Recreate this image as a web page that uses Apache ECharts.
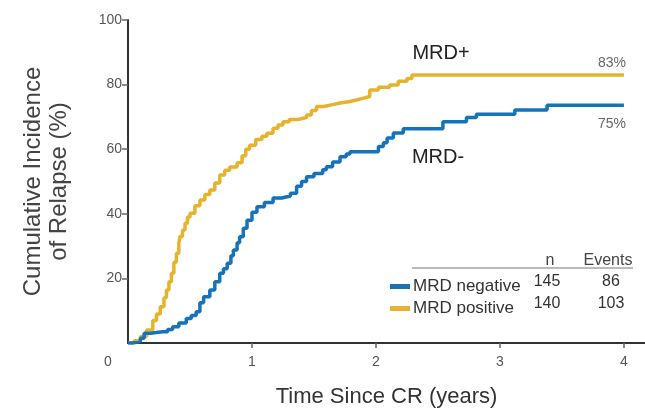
<!DOCTYPE html>
<html>
<head>
<meta charset="utf-8">
<script src="https://cdn.jsdelivr.net/npm/echarts@6/dist/echarts.min.js"></script>
<style>
html,body{margin:0;padding:0;background:#fff;}
#chart{width:645px;height:416px;}
</style>
</head>
<body>
<div id="chart"></div>
<script>
// Data (time in years, cumulative incidence %)
var seriesNames = ['MRD negative', 'MRD positive'];
var mrdNegative = [[0,0],[0.04,0.5],[0.1,1.5],[0.13,3],[0.18,3.5],[0.28,3.5],[0.32,4.2],[0.36,5],[0.41,6.2],[0.47,7.6],[0.51,8.5],[0.55,9.7],[0.58,12.5],[0.61,14.3],[0.66,16.4],[0.7,19],[0.74,21.6],[0.77,23],[0.8,24.7],[0.83,27],[0.85,28.8],[0.88,31],[0.9,32.9],[0.93,35.5],[0.96,38],[1.0,40.5],[1.04,42.2],[1.1,43.5],[1.17,44.9],[1.24,45.5],[1.31,46.4],[1.36,48.5],[1.4,50],[1.44,51.5],[1.5,52.5],[1.57,53.6],[1.6,54.6],[1.65,56],[1.71,57.7],[1.76,58.5],[1.79,59.2],[1.98,59.2],[2.02,60.8],[2.06,62],[2.09,63.5],[2.14,65],[2.22,66.3],[2.54,68.5],[2.73,69.8],[2.81,70.8],[3.12,72.1],[3.38,73.6],[4,73.6]];
var mrdPositive = [[0,0],[0.05,0.7],[0.1,2],[0.15,4],[0.2,7],[0.23,9],[0.26,11.2],[0.29,14],[0.31,16.4],[0.33,19],[0.35,21.6],[0.37,25],[0.39,27.8],[0.41,31],[0.42,33],[0.44,35],[0.46,37.1],[0.48,39],[0.5,40.2],[0.54,42.5],[0.58,44.3],[0.62,46],[0.66,47.4],[0.7,49.5],[0.74,52],[0.78,53.5],[0.82,54.5],[0.88,55.8],[0.92,58],[0.95,60],[0.98,61.2],[1.03,63],[1.08,64],[1.12,64.9],[1.17,66.5],[1.21,67.5],[1.25,68.5],[1.3,69.2],[1.37,69.8],[1.44,70.6],[1.48,72],[1.52,73.2],[1.58,73.8],[1.65,74.3],[1.71,74.7],[1.78,75.3],[1.85,75.8],[1.9,76.3],[1.95,78.3],[2.02,79.2],[2.11,79.9],[2.18,81],[2.25,81.9],[2.29,83],[4,83]];
var xTicks = [1, 2, 3, 4];
var tableHeader = ['n', 'Events'];
var tableN = [145, 140];
var tableEvents = [86, 103];
var endLabels = ['75%', '83%'];
var curveLabels = ['MRD-', 'MRD+'];

var colors = ['#1572bb', '#e5b32c'];
var FONT = '"Liberation Sans", Arial, sans-serif';
var chart = echarts.init(document.getElementById('chart'));

function txt(t, x, y, size, fill) {
  return {type:'text', style:{text:t, x:x, y:y, textAlign:'center', textVerticalAlign:'middle', font:size + 'px ' + FONT, fill:fill}};
}

var graphics = [
  txt('0', 108, 362, 14, '#555'),
  txt(curveLabels[1], 441, 53, 20, '#222'),
  txt(curveLabels[0], 438, 157, 20, '#222'),
  txt(endLabels[1], 612, 63, 14, '#666'),
  txt(endLabels[0], 612, 124, 14, '#666'),
  txt(tableHeader[0], 550, 261, 16, '#444'),
  txt(tableHeader[1], 608, 261, 16, '#444'),
  {type:'line', shape:{x1:412, y1:268, x2:633, y2:268}, style:{stroke:'#777', lineWidth:1.2}},
  txt(String(tableN[0]), 547, 282, 16, '#333'),
  txt(String(tableEvents[0]), 611, 282, 16, '#333'),
  txt(String(tableN[1]), 547, 304, 16, '#333'),
  txt(String(tableEvents[1]), 611, 304, 16, '#333')
];

chart.setOption({
  animation: false,
  backgroundColor: '#fff',
  color: colors,
  grid: {left:128, top:20, right:0, bottom:73, containLabel:false},
  legend: {
    data: seriesNames, orient:'vertical', left:385, top:273, icon:'rect',
    itemWidth:20, itemHeight:5, itemGap:5,
    textStyle:{fontSize:17, color:'#333', fontFamily:'Liberation Sans', padding:[0,0,0,-2]}
  },
  xAxis: {
    type:'value', min:0, max:4.17,
    name:'Time Since CR (years)', nameLocation:'middle', nameGap:43,
    nameTextStyle:{fontSize:22, color:'#333', fontFamily:'Liberation Sans'},
    axisLine:{show:true, onZero:false, lineStyle:{color:'#333', width:2}},
    axisTick:{show:true, customValues:xTicks, length:5, lineStyle:{color:'#666', width:1.5}},
    axisLabel:{customValues:xTicks, margin:12, fontSize:14, color:'#555', fontFamily:'Liberation Sans'},
    splitLine:{show:false}
  },
  yAxis: {
    type:'value', min:0, max:100, interval:20,
    name:'Cumulative Incidence\nof Relapse (%)', nameLocation:'middle', nameGap:56, nameRotate:90,
    nameTextStyle:{fontSize:24, lineHeight:26, color:'#444', fontFamily:'Liberation Sans'},
    axisLine:{show:true, lineStyle:{color:'#333', width:2}},
    axisTick:{show:true, length:6, lineStyle:{color:'#666', width:1.5}},
    axisLabel:{showMinLabel:false, margin:6, fontSize:14, color:'#555', fontFamily:'Liberation Sans'},
    splitLine:{show:false}
  },
  series: [
    {name:seriesNames[0], type:'line', step:'end', data:mrdNegative, showSymbol:false, lineStyle:{width:3.5, color:colors[0]}, z:3},
    {name:seriesNames[1], type:'line', step:'end', data:mrdPositive, showSymbol:false, lineStyle:{width:3.5, color:colors[1]}, z:2}
  ],
  graphic: graphics
});
</script>
</body>
</html>
